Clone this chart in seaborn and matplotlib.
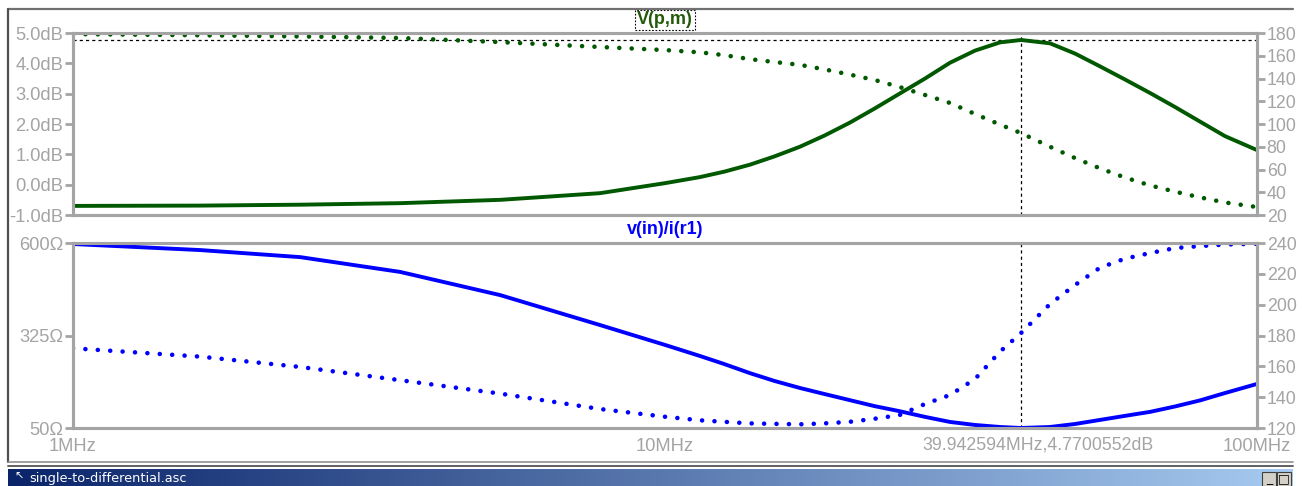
import numpy as np
import pandas as pd
import matplotlib
matplotlib.use("Agg")
import matplotlib.pyplot as plt
import seaborn as sns
from matplotlib.patches import Rectangle
from matplotlib.lines import Line2D
import matplotlib.ticker as mticker

# ---------------- data ----------------
freq_mhz = [1, 1.64, 2.42, 3.57, 5.27, 7.77, 10, 11.46, 12.6, 13.92, 15.3,
            16.9, 18.6, 20.5, 22.6, 24.9, 27.5, 30.3, 33.4, 36.8, 39.94,
            44.7, 49.3, 54.3, 59.8, 66.0, 72.7, 80.1, 88.3, 100]
gain_db = [-0.70, -0.69, -0.66, -0.61, -0.50, -0.28, 0.05, 0.25, 0.43, 0.66,
           0.93, 1.25, 1.62, 2.04, 2.51, 3.00, 3.50, 4.02, 4.42, 4.69, 4.77,
           4.66, 4.32, 3.90, 3.47, 3.02, 2.56, 2.08, 1.60, 1.14]
gain_phase_deg = [179, 178, 177, 175.6, 172, 167.7, 165, 163, 160.5, 157,
                  154.5, 152, 148, 143.5, 138.7, 132.5, 125.5, 118.5, 108.8,
                  99.5, 92, 80, 70, 61, 53, 46, 40.5, 35.5, 31, 27]
zin_ohm = [597, 579, 558, 514, 445, 356, 297, 264, 240, 213, 190,
           169, 151, 133, 115, 100, 83, 68, 59, 53, 50,
           53, 62, 74, 86, 98, 114, 132, 154, 181]
zin_phase_deg = [171.7, 166.3, 159.6, 151, 142.3, 132.3, 127.3, 125, 124, 123,
                 122.7, 122.4, 123, 124, 126, 128.4, 135.6, 141.4, 151.8,
                 169.5, 181.6, 200.4, 212.8, 224, 229.8, 233.5, 236.7, 238,
                 239, 239.5]

db_ticks = [-1, 0, 1, 2, 3, 4, 5]
db_labels = ["-1.0dB", "0.0dB", "1.0dB", "2.0dB", "3.0dB", "4.0dB", "5.0dB"]
deg_top_ticks = [20, 40, 60, 80, 100, 120, 140, 160, 180]
ohm_ticks = [50, 325, 600]
ohm_labels = ["50Ω", "325Ω", "600Ω"]
deg_bot_ticks = [120, 140, 160, 180, 200, 220, 240]
freq_ticks = [1, 10, 100]
freq_labels = ["1MHz", "10MHz", "100MHz"]
cursor_freq = 39.942594
cursor_db = 4.7700552
title_top = "V(p,m)"
title_bot = "v(in)/i(r1)"
cursor_text = "39.942594MHz,4.7700552dB"
window_title = "single-to-differential.asc"

df = pd.DataFrame({"f": freq_mhz, "gain": gain_db, "gph": gain_phase_deg,
                   "z": zin_ohm, "zph": zin_phase_deg})

# ---------------- style ----------------
sns.set_theme(style="white")
plt.rcParams["font.family"] = ["Liberation Sans", "DejaVu Sans"]

W, H = 1302, 486
fig = plt.figure(figsize=(W / 100, H / 100), dpi=100)
fig.patch.set_facecolor("white")


def box(x0, y0, x1, y1):
    return [x0 / W, 1 - y1 / H, (x1 - x0) / W, (y1 - y0) / H]


def fx(x):
    return x / W


def fy(y):
    return 1 - y / H


GRAY = "#a4a4a4"
GREEN = "#005800"
BLUE = "#0000ff"
FS = 13.2
DOT = dict(linestyle=(0, (0.01, 2.7)), linewidth=3.3, dash_capstyle="round")


def style_axes(ax):
    ax.set_facecolor("none")
    for s in ax.spines.values():
        s.set_color(GRAY)
        s.set_linewidth(2.2)
    ax.tick_params(colors=GRAY, labelcolor=GRAY, labelsize=FS, width=2,
                   length=6, direction="out", pad=1)
    ax.grid(False)


# ---------------- top panel ----------------
ax1 = fig.add_axes(box(73, 33, 1257, 215))
ax1r = ax1.twinx()
for a in (ax1, ax1r):
    style_axes(a)
    a.set_xscale("log")
    a.set_xlim(1, 100)
sns.lineplot(data=df, x="f", y="gain", ax=ax1, color=GREEN, linewidth=2.8,
             sort=False)
sns.lineplot(data=df, x="f", y="gph", ax=ax1r, color=GREEN, sort=False, **DOT)
ax1.set_ylim(-1, 5)
ax1r.set_ylim(20, 180)
ax1.set_yticks(db_ticks)
ax1.set_yticklabels(db_labels)
ax1r.set_yticks(deg_top_ticks)
ax1r.set_yticklabels([str(t) for t in deg_top_ticks])
for a in (ax1, ax1r):
    a.set_xlabel("")
    a.set_ylabel("")
    a.tick_params(axis="x", which="both", bottom=False, top=False,
                  labelbottom=False)
ax1r.tick_params(axis="y", labelsize=12.8)
ax1.axhline(cursor_db, color="black", lw=0.9, ls=(0, (2.5, 2.5)), zorder=1)
ax1.axvline(cursor_freq, color="black", lw=0.9, ls=(0, (2.5, 2.5)), zorder=1)

# ---------------- bottom panel ----------------
ax2 = fig.add_axes(box(73, 243, 1257, 428))
ax2r = ax2.twinx()
for a in (ax2, ax2r):
    style_axes(a)
    a.set_xscale("log")
    a.set_xlim(1, 100)
sns.lineplot(data=df, x="f", y="z", ax=ax2, color=BLUE, linewidth=2.8,
             sort=False)
sns.lineplot(data=df, x="f", y="zph", ax=ax2r, color=BLUE, sort=False, **DOT)
ax2.set_ylim(50, 600)
ax2r.set_ylim(120, 240)
ax2.set_yticks(ohm_ticks)
ax2.set_yticklabels(ohm_labels)
ax2r.set_yticks(deg_bot_ticks)
ax2r.set_yticklabels([str(t) for t in deg_bot_ticks])
ax2r.tick_params(axis="y", labelsize=12.8)
for a in (ax2, ax2r):
    a.set_xlabel("")
    a.set_ylabel("")
ax2.xaxis.set_major_locator(mticker.FixedLocator(freq_ticks))
ax2.xaxis.set_major_formatter(mticker.FixedFormatter(freq_labels))
ax2.xaxis.set_minor_locator(mticker.LogLocator(base=10, subs=np.arange(2, 10)))
ax2.xaxis.set_minor_formatter(mticker.NullFormatter())
ax2.tick_params(axis="x", which="major", length=6, width=2, pad=1.5,
                labelsize=FS, colors=GRAY)
ax2.tick_params(axis="x", which="minor", length=3, width=2, colors=GRAY)
ax2r.tick_params(axis="x", which="both", bottom=False, labelbottom=False)
ax2.axvline(cursor_freq, color="black", lw=0.9, ls=(0, (2.5, 2.5)), zorder=1)

# ---------------- titles & cursor readout ----------------
fig.text(fx(665), fy(20), title_top, color="#245a0a", fontsize=13,
         fontweight="bold", ha="center", va="center",
         bbox=dict(boxstyle="square,pad=0.1", fc="white", ec="black",
                   lw=0.8, ls=(0, (1.5, 1.5))))
fig.text(fx(665), fy(229), title_bot, color=BLUE, fontsize=13,
         fontweight="bold", ha="center", va="center")
fig.text(fx(1038), fy(445), cursor_text, color=GRAY, fontsize=12.8,
         ha="center", va="center")

# ---------------- window chrome ----------------
fig.add_artist(Line2D([fx(8), fx(1293)], [fy(9), fy(9)], color="#707070",
                      lw=1.6, zorder=21))
fig.add_artist(Line2D([fx(8), fx(8)], [fy(9), fy(462)], color="#505050",
                      lw=1.6, zorder=21))
fig.add_artist(Line2D([fx(8), fx(1293)], [fy(462), fy(462)], color="#909090",
                      lw=1.2, zorder=21))
fig.add_artist(Line2D([fx(8), fx(1293)], [fy(466), fy(466)], color="#606060",
                      lw=1.4, zorder=21))
tb = fig.add_axes(box(8, 469, 1293, 486), zorder=22)
grad = np.linspace(0, 1, 256)
c0 = np.array([10, 36, 106]) / 255
c1 = np.array([166, 202, 240]) / 255
img = (c0[None, :] * (1 - grad[:, None]) + c1[None, :] * grad[:, None])[None]
tb.imshow(img, aspect="auto", extent=(0, 1, 0, 1))
tb.set_xlim(0, 1)
tb.set_ylim(0, 1)
tb.axis("off")
fig.text(fx(29), fy(478), window_title, color="white", fontsize=9.3,
         family=["DejaVu Sans"], ha="left", va="center", zorder=23)
fig.text(fx(14), fy(477), "↖", color="white", fontsize=8,
         family=["DejaVu Sans"], ha="left", va="center", zorder=23)
for bx0, sym in ((1262, "_"), (1277, "□")):
    fig.patches.append(Rectangle((fx(bx0), fy(486)), 14 / W, 14 / H,
                                 transform=fig.transFigure, fc="#d4d0c8",
                                 ec="#404040", lw=0.8, zorder=24))
    fig.text(fx(bx0 + 7), fy(479), sym, color="black", fontsize=9,
             family=["DejaVu Sans"], ha="center", va="center", zorder=25)

fig.savefig("out.png", dpi=100, facecolor="white")
